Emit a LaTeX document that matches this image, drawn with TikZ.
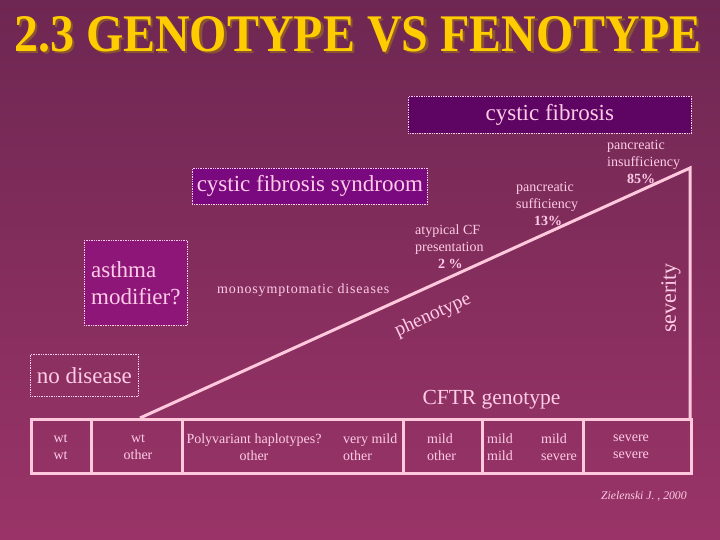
\documentclass[tikz,border=0pt]{standalone}
\usepackage{fontspec}
\setmainfont{Liberation Serif}
\usepackage{graphicx}
\definecolor{bgtop}{HTML}{6E2752}
\definecolor{bgbot}{HTML}{9A3468}
\definecolor{pinktxt}{HTML}{FFCCE8}
\definecolor{pinkln}{HTML}{FFC8DC}
\definecolor{gold}{HTML}{FFCC00}
\definecolor{goldsh}{HTML}{8A5530}
\definecolor{cfbox}{HTML}{5E0462}
\definecolor{syndbox}{HTML}{7A087F}
\definecolor{asthbox}{HTML}{8E1678}
\begin{document}
\begin{tikzpicture}[x=1pt,y=-1pt,
  txt/.style={text=pinktxt, inner sep=0pt},
  dotbox/.style={draw=pinktxt, densely dotted, line width=0.7pt, inner sep=0pt, anchor=north west},
  ln/.style={draw=pinkln, line width=3pt},
  cell/.style={draw=pinkln, line width=3pt, minimum height=54pt, inner sep=0pt, anchor=north west},
  small/.style={txt, font=\fontsize{14}{17}\selectfont},
  big/.style={txt, font=\fontsize{23}{27}\selectfont}]
\useasboundingbox (0,0) rectangle (720,540);
\shade[top color=bgtop, bottom color=bgbot] (0,0) rectangle (720,540);

% title
\node[inner sep=0pt, anchor=north west, text=goldsh] (titlesh) at (16.5,18.5)
  {\resizebox{687pt}{35pt}{\bfseries 2.3 GENOTYPE VS FENOTYPE}};
\node[inner sep=0pt, anchor=north west, text=gold] (title) at (14,16)
  {\resizebox{687pt}{35pt}{\bfseries 2.3 GENOTYPE VS FENOTYPE}};

% boxes
\node[dotbox, big, fill=cfbox, minimum width=283pt, minimum height=37pt] (cf) at (408,96) {cystic fibrosis};
\node[dotbox, big, fill=syndbox, minimum width=235pt, minimum height=36pt] (synd) at (192,168) {cystic fibrosis syndroom};
\node[dotbox, big, fill=asthbox, minimum width=103pt, minimum height=85pt, align=left] (asth) at (84,240) {asthma\\modifier?};
\node[dotbox, big, minimum width=108pt, minimum height=42pt] (nodis) at (30,354) {no disease};

% graph lines
\coordinate (low) at (140,418);
\coordinate (apex) at (690,168);
\coordinate (baseR) at (690,418);
\draw[ln] (low) -- (apex) -- (baseR);

% table cells
\node[cell, minimum width=60pt] (k1) at (30,418) {};
\node[cell, minimum width=91pt] (k2) at (90,418) {};
\node[cell, minimum width=221pt] (k3) at (181,418) {};
\node[cell, minimum width=79pt] (k4) at (402,418) {};
\node[cell, minimum width=101pt] (k5) at (481,418) {};
\node[cell, minimum width=108pt] (k6) at (582,418) {};

% table texts
\node[small, align=center] (t1) at (60.5,447) {wt\\wt};
\node[small, align=center] (t2) at (138,447) {wt\\other};
\node[small, align=center] (t3a) at (254,447) {Polyvariant haplotypes?\\other};
\node[small, align=left, anchor=west] (t3b) at (343,447) {very mild\\other};
\node[small, align=left, anchor=west] (t4) at (427,447) {mild\\other};
\node[small, align=left, anchor=west] (t5a) at (487,447) {mild\\mild};
\node[small, align=left, anchor=west] (t5b) at (541,447) {mild\\severe};
\node[small, align=center] (t6) at (631,447) {severe\\severe};

% labels
\node[txt, font=\fontsize{14}{17}\selectfont\addfontfeature{LetterSpace=6}, anchor=base west] (mono) at (217,293) {monosymptomatic diseases};
\node[txt, font=\fontsize{19.5}{24}\selectfont, rotate=24.44] (pheno) at (433,315.5) {phenotype};
\node[txt, font=\fontsize{22}{26}\selectfont, rotate=90] (sev) at (671,298) {severity};
\node[txt, font=\fontsize{21.5}{26}\selectfont, anchor=base] (cftr) at (491.5,404) {CFTR genotype};

\node[small, align=left, anchor=north west] (atyp) at (415,224.5) {atypical CF\\presentation\\\hspace*{23pt}\textbf{2 \%}};
\node[small, align=left, anchor=north west] (psuf) at (516,182.5) {pancreatic\\sufficiency\\\hspace*{18pt}\textbf{13\%}};
\node[small, align=left, anchor=north west] (pins) at (607,140.5) {pancreatic\\insufficiency\\\hspace*{20pt}\textbf{85\%}};

\node[txt, font=\fontsize{11.7}{14}\selectfont\itshape, anchor=base west] (ref) at (601,499) {Zielenski J. , 2000};
\end{tikzpicture}
\end{document}
